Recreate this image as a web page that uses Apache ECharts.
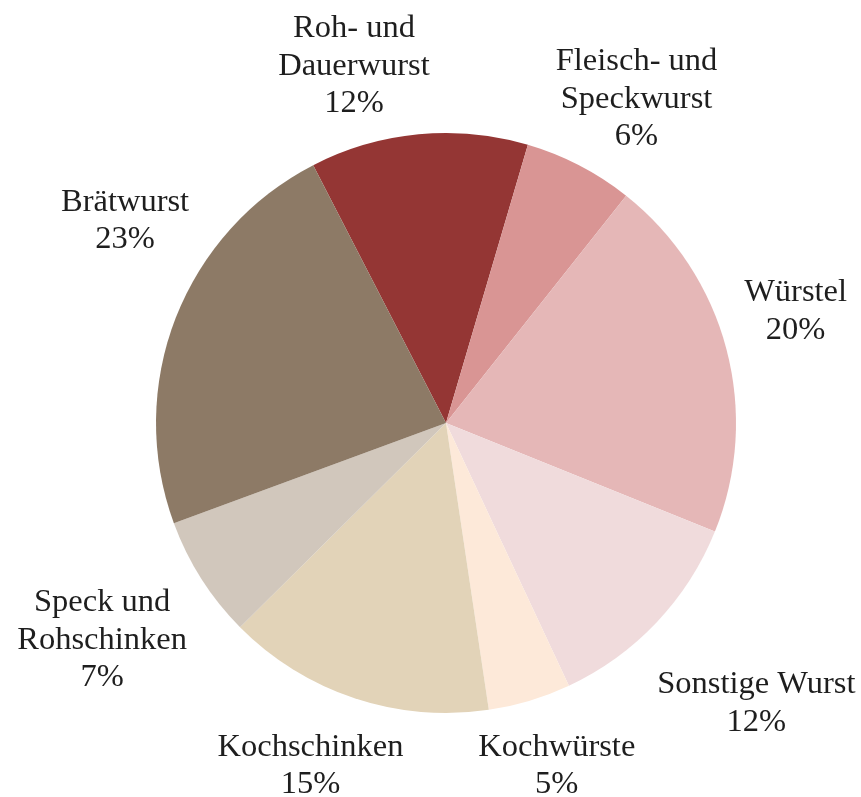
<!DOCTYPE html>
<html>
<head>
<meta charset="utf-8">
<script src="https://cdn.jsdelivr.net/npm/echarts@6/dist/echarts.min.js"></script>
<style>
  html, body { margin: 0; padding: 0; background: #ffffff; }
  #chart { width: 861px; height: 797px; }
</style>
</head>
<body>
<div id="chart"></div>
<script>
// ---- data ----
const categories = [
  'Roh- und\nDauerwurst',
  'Fleisch- und\nSpeckwurst',
  'Würstel',
  'Sonstige Wurst',
  'Kochwürste',
  'Kochschinken',
  'Speck und\nRohschinken',
  'Brätwurst'
];
const values = [12.1, 6.1, 20.4, 11.9, 4.6, 14.9, 6.8, 23.0];
const colors = ['#943634', '#d99594', '#e5b7b7', '#f0dbdc', '#fde9d9', '#e2d3b8', '#d1c7bc', '#8d7a66'];

// ---- layout ----
const CX = 446, CY = 423, R = 290;
const START = 117.25;           // echarts start angle (deg, ccw from 3 o'clock)
const GAP = 15;
const BASE_DY = 3;
const NUDGE = [[-56, 0], [13, -6], [5, -27], [17, 42], [0, 12], [-10, 15], [-15, 20], [23, -81]];

const total = values.reduce((a, b) => a + b, 0);
function midAngle(i) {
  let cum = 0;
  for (let k = 0; k < i; k++) cum += values[k];
  const startCw = 90 - START; // clockwise from 12 o'clock
  return (startCw + 360 * (cum + values[i] / 2) / total) * Math.PI / 180;
}

const chart = echarts.init(document.getElementById('chart'), null, { renderer: 'canvas' });
chart.setOption({
  backgroundColor: '#ffffff',
  animation: false,
  series: [{
    type: 'pie',
    center: [CX, CY],
    radius: R,
    startAngle: START,
    clockwise: true,
    avoidLabelOverlap: false,
    emphasis: { disabled: true },
    itemStyle: { borderWidth: 0 },
    label: {
      show: true,
      position: 'inside',
      color: '#1e1e1e',
      fontFamily: 'Liberation Serif',
      fontSize: 32.5,
      lineHeight: 37.5,
      align: 'center',
      formatter: p => p.name + '\n' + Math.round(p.percent) + '%'
    },
    labelLine: { show: false },
    labelLayout: function (p) {
      const i = p.dataIndex;
      const a = midAngle(i);
      const ux = Math.sin(a), uy = -Math.cos(a);
      const w = p.labelRect.width, h = p.labelRect.height;
      const x = CX + ux * (R + GAP) + ux * w / 2 + NUDGE[i][0];
      const y = CY + uy * (R + GAP) + uy * h / 2 + NUDGE[i][1] + BASE_DY;
      return { x: x, y: y, align: 'center', verticalAlign: 'middle' };
    },
    data: categories.map((c, i) => ({ name: c, value: values[i], itemStyle: { color: colors[i] } }))
  }]
});
</script>
</body>
</html>
